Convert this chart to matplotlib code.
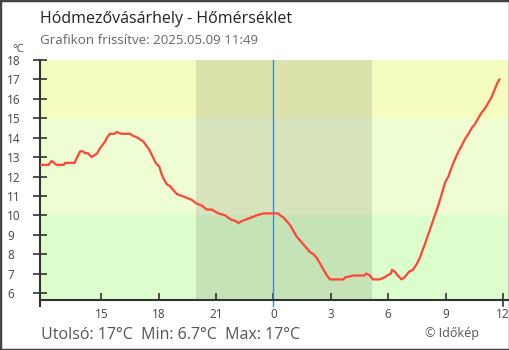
import matplotlib.pyplot as plt
from matplotlib.patches import Rectangle
from matplotlib.transforms import blended_transform_factory

plt.rcParams['font.family'] = ['Open Sans', 'DejaVu Sans']

# órák éjfélhez viszonyítva (negatív = előző nap)
hours = [-12.2, -11.75, -11.6, -11.45, -11.35, -10.95, -10.9, -10.4, -10.3, -10.2,
         -10.1, -9.95, -9.85, -9.7, -9.6, -9.5, -9.35, -9.2, -9.1, -8.95,
         -8.8, -8.7, -8.55, -8.3, -8.2, -7.95, -7.5, -7.35, -7.1, -6.95,
         -6.8, -6.65, -6.5, -6.4, -6.25, -6.15, -5.96, -5.87, -5.75, -5.57,
         -5.4, -5.23, -5.05, -4.79, -4.53, -4.27, -4.0, -3.74, -3.48, -3.22,
         -2.88, -2.52, -2.26, -1.95, -1.83, -1.65, -1.39, -1.13, -0.87, -0.52,
         0.26, 0.35, 0.52, 0.7, 0.87, 1.05, 1.22, 1.4, 1.57, 1.75,
         1.92, 2.1, 2.27, 2.45, 2.62, 2.8, 2.96, 3.66, 3.75, 4.2,
         4.75, 4.85, 5.05, 5.2, 5.55, 5.8, 5.95, 6.15, 6.2, 6.35,
         6.5, 6.7, 6.85, 7.1, 7.3, 7.5, 7.65, 7.8, 7.95, 8.05,
         8.2, 8.37, 8.55, 8.71, 8.83, 8.98, 9.15, 9.33, 9.5, 9.68,
         9.85, 10.0, 10.2, 10.37, 10.54, 10.71, 10.89, 11.06, 11.24, 11.41,
         11.58, 11.7, 11.82]
temps = [12.6, 12.6, 12.8, 12.7, 12.6, 12.6, 12.7, 12.7, 12.9, 13.1,
         13.3, 13.3, 13.2, 13.2, 13.1, 13.0, 13.1, 13.2, 13.4, 13.6,
         13.8, 14.0, 14.2, 14.2, 14.3, 14.2, 14.2, 14.1, 14.0, 13.9,
         13.8, 13.6, 13.4, 13.2, 12.9, 12.7, 12.5, 12.2, 11.9, 11.6,
         11.5, 11.3, 11.1, 11.0, 10.9, 10.8, 10.6, 10.5, 10.3, 10.3,
         10.1, 10.0, 9.8, 9.7, 9.6, 9.7, 9.8, 9.9, 10.0, 10.1,
         10.1, 10.0, 9.9, 9.7, 9.5, 9.2, 8.9, 8.7, 8.5, 8.3,
         8.1, 8.0, 7.8, 7.5, 7.2, 6.9, 6.7, 6.7, 6.8, 6.9,
         6.9, 7.0, 6.9, 6.7, 6.7, 6.8, 6.9, 7.0, 7.2, 7.1,
         6.9, 6.7, 6.8, 7.1, 7.2, 7.5, 7.8, 8.2, 8.6, 8.9,
         9.3, 9.8, 10.3, 10.8, 11.2, 11.7, 12.0, 12.5, 12.9, 13.3,
         13.6, 13.9, 14.2, 14.5, 14.7, 15.0, 15.3, 15.5, 15.8, 16.1,
         16.5, 16.8, 17.0]

xticks = [-9, -6, -3, 0, 3, 6, 9, 12]
xlabels = ['15', '18', '21', '0', '3', '6', '9', '12']
yticks = list(range(6, 19))

# háttérsávok hőmérséklet szerint
bands = [(5.6, 10, '#dcfdcc'), (10, 15, '#effdd2'), (15, 18, '#f5fcc0')]
sunset, sunrise = -4.04, 5.14

W, H = 510, 350
fig = plt.figure(figsize=(W / 100, H / 100), dpi=100)
ax = fig.add_axes([40 / W, 50 / H, 470 / W, 240 / H])

for lo, hi, c in bands:
    ax.axhspan(lo, hi, color=c, lw=0, zorder=0)
ax.axvspan(sunset, sunrise, color='black', alpha=0.1, lw=0, zorder=1)

ax.plot(hours, temps, color='#ff4438', lw=1.6, zorder=3)

# éjfél jelölése
ax.axvline(0, ymin=-6 / 240, ymax=1, color='#3a8fc9', lw=1, clip_on=False, zorder=2)

ax.set_xlim(-12.2, 12.37)
ax.set_ylim(5.64, 18)

ax.set_xticks(xticks)
ax.set_xticklabels(xlabels)
ax.set_yticks(yticks)
ax.tick_params(axis='y', direction='inout', length=9.5, width=1.2, color='#333',
               labelsize=8.5, labelcolor='#444', pad=19)
ax.tick_params(axis='x', direction='in', length=5, width=1.2, color='#333',
               labelsize=8.5, labelcolor='#444', pad=6)
for lbl in ax.get_yticklabels():
    lbl.set_ha('left')

for s in ['top', 'right']:
    ax.spines[s].set_visible(False)
for s in ['left', 'bottom']:
    ax.spines[s].set_color('#333')
    ax.spines[s].set_linewidth(1.5)

# kis túlnyúlás a bal sarokban és a 12-es jelnél
ax.plot([0, 0], [0, -6 / 240], transform=ax.transAxes, color='#333', lw=1.5, clip_on=False)
trans = blended_transform_factory(ax.transData, ax.transAxes)
ax.plot([12, 12], [0, -6 / 240], transform=trans, color='#333', lw=1.2, clip_on=False)

fig.text(40 / W, 1 - 23 / H, 'Hódmezővásárhely - Hőmérséklet', fontsize=11.5,
         color='#222', va='baseline')
fig.text(40 / W, 1 - 44.5 / H, 'Grafikon frissítve: 2025.05.09 11:49', fontsize=9.6,
         color='#666', va='baseline')
fig.text(12 / W, 1 - 52.5 / H, '°C', fontsize=8, color='#444', va='baseline')

stats = f'Utolsó: {temps[-1]:.0f}°C  Min: {min(temps):.1f}°C  Max: {max(temps):.0f}°C'
fig.text(41 / W, 1 - 339 / H, stats, fontsize=11.5, color='#555', va='baseline')
fig.text(425 / W, 1 - 336.5 / H, '© Időkép', fontsize=9, color='#555', va='baseline')

fig.patches.append(Rectangle((0, 0), 1, 1, transform=fig.transFigure, fill=False,
                             edgecolor='#444', lw=2.5))

fig.savefig('out.png', dpi=100)
